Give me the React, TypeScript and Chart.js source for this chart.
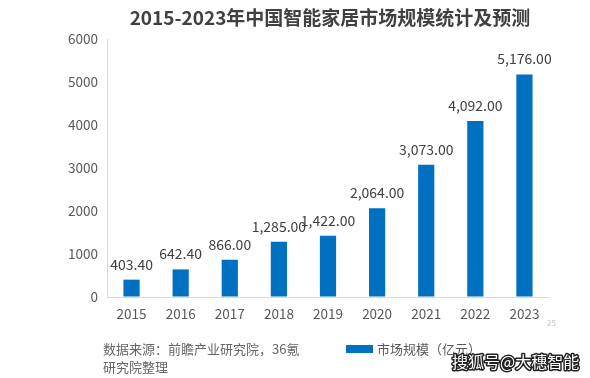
import React, { useEffect, useRef } from "react";
import { Chart, registerables } from "chart.js";

Chart.register(...registerables);

const years = ["2015", "2016", "2017", "2018", "2019", "2020", "2021", "2022", "2023"];
const marketSize = [403.4, 642.4, 866.0, 1285.0, 1422.0, 2064.0, 3073.0, 4092.0, 5176.0];
const titleText = "2015-2023年中国智能家居市场规模统计及预测";
const seriesLabel = "市场规模（亿元）";
const sourceLines = ["数据来源：前瞻产业研究院，36氪", "研究院整理"];
const watermark = "搜狐号@大穗智能";
const pageNo = "25";

const FONT = '"Microsoft YaHei", "Noto Sans CJK SC", "Noto Sans", sans-serif';
const BLUE = "#0070C0";
const TEXT = "#595959";

const fmt = (v: number) =>
  v.toLocaleString("en-US", { minimumFractionDigits: 2, maximumFractionDigits: 2 });

const decorPlugin = {
  id: "decor",
  afterDatasetsDraw(chart: any) {
    const ctx = chart.ctx;
    ctx.save();
    const meta = chart.getDatasetMeta(0);
    ctx.font = `14px ${FONT}`;
    ctx.fillStyle = "#404040";
    ctx.textAlign = "center";
    ctx.textBaseline = "alphabetic";
    meta.data.forEach((bar: any, i: number) => {
      ctx.fillText(fmt(marketSize[i]), bar.x, bar.y - 10);
    });
    ctx.restore();
  },
  afterDraw(chart: any) {
    const ctx = chart.ctx;
    ctx.save();
    // title
    ctx.font = `bold 19px ${FONT}`;
    ctx.fillStyle = "#404040";
    ctx.textAlign = "center";
    ctx.textBaseline = "middle";
    ctx.fillText(titleText, 330, 18);
    // page number
    ctx.font = `8px ${FONT}`;
    ctx.fillStyle = "#bfbfbf";
    ctx.textAlign = "left";
    ctx.fillText(pageNo, 547, 323);
    // source
    ctx.font = `13px ${FONT}`;
    ctx.fillStyle = "#666666";
    ctx.textAlign = "left";
    ctx.fillText(sourceLines[0], 103, 349);
    ctx.fillText(sourceLines[1], 103, 367);
    // legend
    ctx.fillStyle = BLUE;
    ctx.fillRect(346, 345, 27, 8);
    ctx.fillStyle = TEXT;
    ctx.font = `13px ${FONT}`;
    ctx.fillText(seriesLabel, 377, 349);
    // watermark
    ctx.font = `16px ${FONT}`;
    ctx.lineWidth = 3;
    ctx.strokeStyle = "#222222";
    ctx.lineJoin = "round";
    ctx.strokeText(watermark, 452, 362);
    ctx.fillStyle = "#ffffff";
    ctx.fillText(watermark, 452, 362);
    ctx.restore();
  },
};

export default function App() {
  const ref = useRef<HTMLCanvasElement | null>(null);
  useEffect(() => {
    if (!ref.current) return;
    const chart = new Chart(ref.current, {
      type: "bar",
      data: {
        labels: years,
        datasets: [
          {
            label: seriesLabel,
            data: marketSize,
            backgroundColor: BLUE,
            barPercentage: 0.66,
            categoryPercentage: 0.5,
          },
        ],
      },
      options: {
        animation: false,
        responsive: false,
        layout: { padding: { top: 39, right: 41, left: 0, bottom: 0 } },
        plugins: {
          legend: { display: false },
          title: { display: false },
          tooltip: { enabled: false },
        },
        scales: {
          x: {
            grid: { display: true, color: "transparent", drawTicks: false },
            border: { display: true, color: "#d9d9d9", width: 1 },
            ticks: { color: TEXT, font: { size: 13.5, family: FONT }, padding: 9 },
            afterFit: (s: any) => {
              s.height = 81;
            },
          },
          y: {
            min: 0,
            max: 6000,
            grid: { display: true, color: "transparent", drawTicks: false },
            border: { display: true, color: "#d9d9d9", width: 1 },
            ticks: {
              stepSize: 1000,
              color: TEXT,
              font: { size: 13.5, family: FONT },
              padding: 9,
              callback: (v: any) => String(v),
            },
            afterFit: (s: any) => {
              s.width = 107;
            },
          },
        },
      },
      plugins: [decorPlugin],
    });
    return () => chart.destroy();
  }, []);
  return (
    <div style={{ position: "fixed", left: 0, top: 0, width: 590, height: 378, background: "#fff" }}>
      <canvas ref={ref} width={590} height={378} style={{ width: 590, height: 378 }} />
    </div>
  );
}
